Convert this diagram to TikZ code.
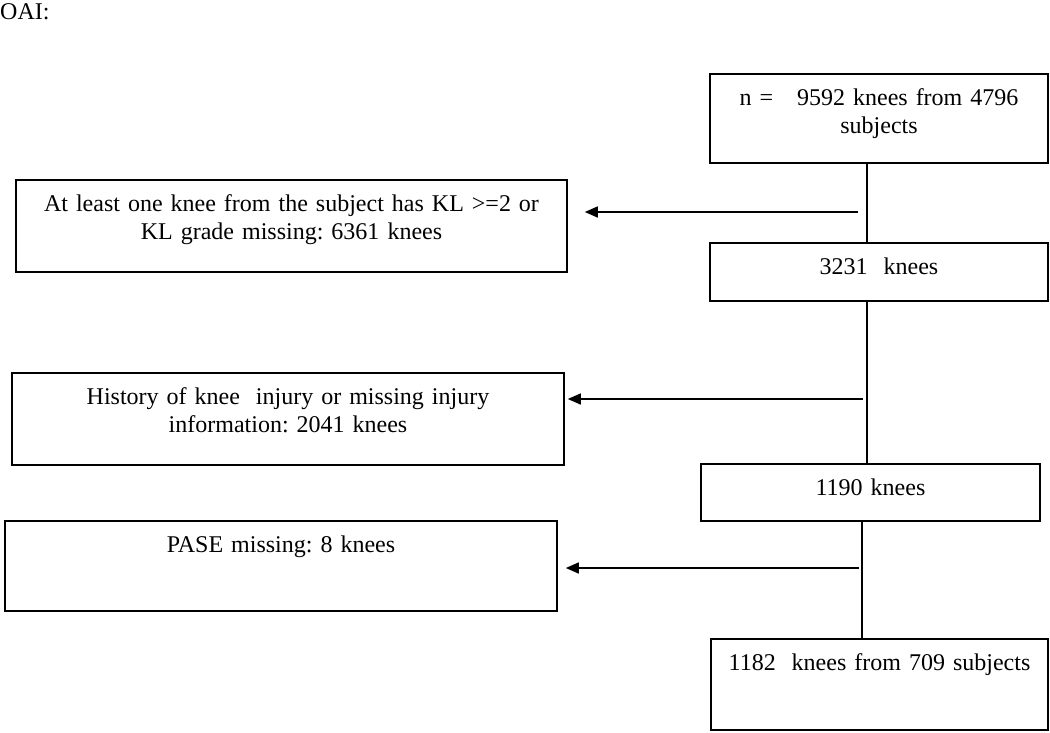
\documentclass[tikz,border=0pt]{standalone}
\usepackage{fontspec}
\setmainfont{Liberation Serif}
\usetikzlibrary{arrows.meta}
\frenchspacing
\begin{document}
\begin{tikzpicture}[x=1pt,y=-1pt,
    font=\fontsize{24}{28.6}\selectfont,
    box/.style={draw, line width=1.6pt, inner sep=0pt, align=center, text height=31pt},
    arrow/.style={line width=1.6pt, -{Triangle[length=13pt,width=11pt]}}]
  \useasboundingbox (0,0) rectangle (1050,732);
  \node[anchor=base west, inner sep=0pt] (oai) at (0,19) {OAI:};
  \node[box, text width=338pt, text depth=58pt] (all) at (879,118.5) {n =\ \ \ 9592 knees from 4796\\ subjects};
  \node[box, text width=551pt, text depth=61pt] (kl) at (291.5,226) {At least one knee from the subject has KL >=2 or\\ KL grade missing: 6361 knees};
  \node[box, text width=338pt, text depth=27pt] (r1) at (879,272) {3231\ \ knees};
  \node[box, text width=552pt, text depth=61pt] (inj) at (288,419) {History of knee\ \ injury or missing injury\\ information: 2041 knees};
  \node[box, text width=339pt, text depth=26pt] (r2) at (870.5,492.5) {1190 knees};
  \node[box, text width=552pt, text depth=59pt] (pase) at (281,566) {PASE missing: 8 knees};
  \node[box, text width=337pt, text depth=60pt] (fin) at (879.5,684.5) {1182\ \ knees from 709 subjects};
  \draw[line width=1.6pt] ([xshift=-12.3pt]all.south) -- ([xshift=-12.3pt]r1.north);
  \draw[line width=1.6pt] ([xshift=-12.3pt]r1.south) -- ([xshift=-3.8pt]r2.north);
  \draw[line width=1.6pt] ([xshift=-8.5pt]r2.south) -- ([xshift=-17.5pt]fin.north);
  \coordinate (s1) at (858,212);
  \coordinate (s2) at (862.5,399);
  \coordinate (s3) at (859,568);
  \draw[arrow, shorten >=17pt] (s1) -- (s1 -| kl.east);
  \draw[arrow, shorten >=3pt] (s2) -- (s2 -| inj.east);
  \draw[arrow, shorten >=8pt] (s3) -- (s3 -| pase.east);
\end{tikzpicture}
\end{document}
